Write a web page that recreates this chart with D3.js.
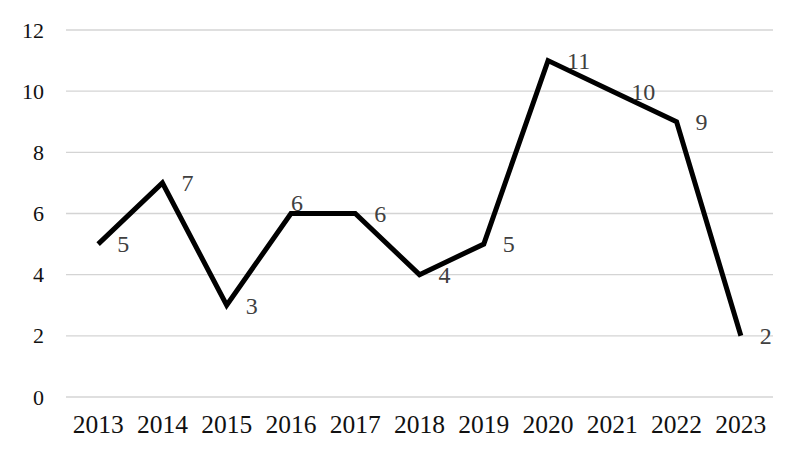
<!DOCTYPE html>
<html>
<head>
<meta charset="utf-8">
<script src="https://cdn.jsdelivr.net/npm/d3@7"></script>
<style>
  body { margin: 0; background: #fff; }
</style>
</head>
<body>
<div class="graph"></div>
<script>
const years = ["2013", "2014", "2015", "2016", "2017", "2018", "2019", "2020", "2021", "2022", "2023"]
const counts = [5, 7, 3, 6, 6, 4, 5, 11, 10, 9, 2]
const yTicks = [0, 2, 4, 6, 8, 10, 12]

const data = years.map((y, i) => ({year: y, value: counts[i]}))

const width = 800,
      height = 454
const margin = {top: 30, right: 27, bottom: 57, left: 66}

const svg = d3.select(".graph").append("svg")
    .attr("width", width)
    .attr("height", height)
    .style("font-family", "'Liberation Serif', 'Times New Roman', serif");

svg.append("rect")
    .attr("width", "100%")
    .attr("height", "100%")
    .style("fill", "#fff");

const scaleX = d3.scaleBand()
    .domain(years)
    .range([margin.left, width - margin.right])
    .padding(0)

const scaleY = d3.scaleLinear()
    .domain([0, 12])
    .range([height - margin.bottom, margin.top])

const cx = d => scaleX(d.year) + scaleX.bandwidth() / 2

// grid
svg.append("g")
    .selectAll("line")
    .data(yTicks)
    .join("line")
    .attr("x1", margin.left)
    .attr("x2", width - margin.right)
    .attr("y1", d => scaleY(d))
    .attr("y2", d => scaleY(d))
    .attr("stroke", "#d4d4d4")
    .attr("stroke-width", 1.3)

// y axis labels
const yAxis = g => g
    .attr("transform", `translate(${margin.left - 12}, 0)`)
    .call(d3.axisLeft(scaleY).tickValues(yTicks).tickSize(0).tickPadding(10))
    .call(g => g.select(".domain").remove())
    .call(g => g.selectAll("text").attr("fill", "#111").style("font-size", "22px")
        .attr("font-family", "'Liberation Serif', serif"))

svg.append("g").call(yAxis)

// x axis labels
const xAxis = g => g
    .attr("transform", `translate(0, ${height - margin.bottom})`)
    .call(d3.axisBottom(scaleX).tickSize(0).tickPadding(18))
    .call(g => g.select(".domain").remove())
    .call(g => g.selectAll("text").attr("fill", "#111").style("font-size", "25.5px")
        .attr("font-family", "'Liberation Serif', serif"))

svg.append("g").call(xAxis)

// line
const line = d3.line()
    .x(d => cx(d))
    .y(d => scaleY(d.value))

svg.append("path")
    .datum(data)
    .attr("d", line)
    .attr("fill", "none")
    .attr("stroke", "#000")
    .attr("stroke-width", 5)
    .attr("stroke-linejoin", "miter")

// value labels
svg.append("g")
    .selectAll("text")
    .data(data)
    .join("text")
    .attr("x", d => d.year === "2016" ? cx(d) : cx(d) + 19)
    .attr("y", d => d.year === "2016" ? scaleY(d.value) - 11 : scaleY(d.value))
    .attr("dy", "0.35em")
    .attr("fill", "#404040")
    .style("font-size", "24px")
    .text(d => d.value)
</script>
</body>
</html>
